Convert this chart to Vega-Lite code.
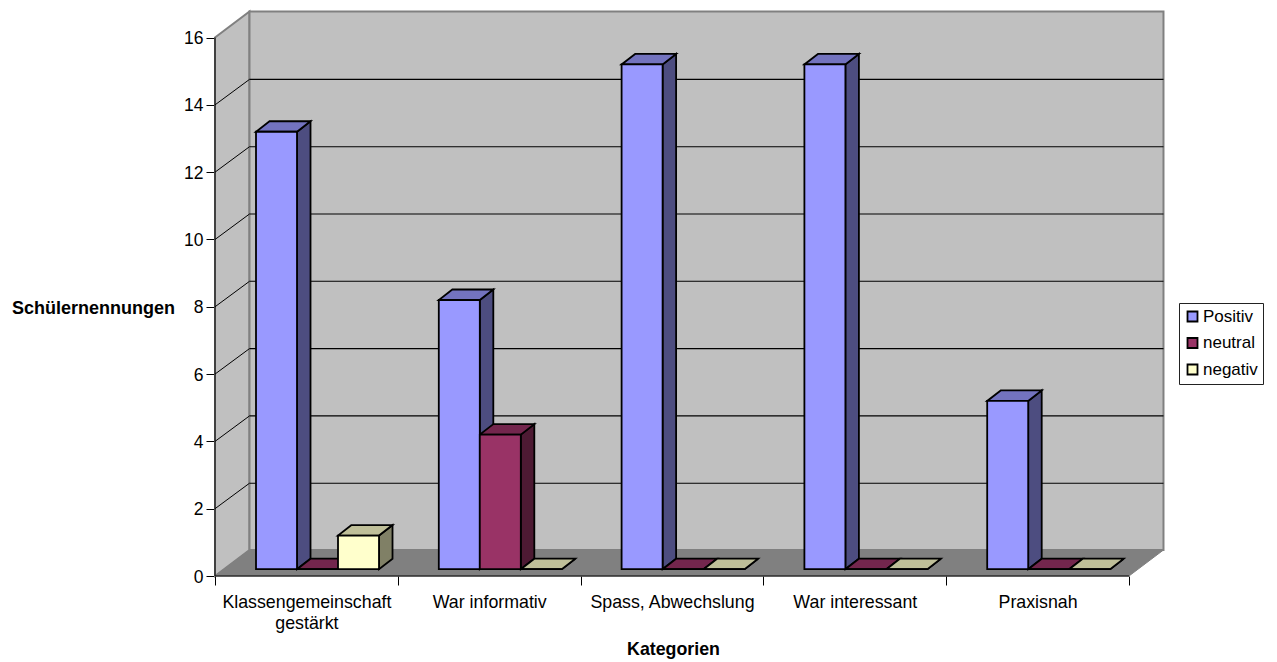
{
  "$schema": "https://vega.github.io/schema/vega-lite/v6.json",
  "autosize": {"type": "none"},
  "width": 949,
  "height": 564,
  "padding": {"left": 215, "top": 12, "right": 113, "bottom": 86},
  "background": "white",
  "config": {"font": "Liberation Sans", "view": {"stroke": null}},
  "datasets": {
    "bars": [
      {"category": "Klassengemeinschaft gestärkt", "cat": 0, "series": "Positiv", "pos": 0, "value": 13},
      {"category": "Klassengemeinschaft gestärkt", "cat": 0, "series": "neutral", "pos": 1, "value": 0},
      {"category": "Klassengemeinschaft gestärkt", "cat": 0, "series": "negativ", "pos": 2, "value": 1},
      {"category": "War informativ", "cat": 1, "series": "Positiv", "pos": 0, "value": 8},
      {"category": "War informativ", "cat": 1, "series": "neutral", "pos": 1, "value": 4},
      {"category": "War informativ", "cat": 1, "series": "negativ", "pos": 2, "value": 0},
      {"category": "Spass, Abwechslung", "cat": 2, "series": "Positiv", "pos": 0, "value": 15},
      {"category": "Spass, Abwechslung", "cat": 2, "series": "neutral", "pos": 1, "value": 0},
      {"category": "Spass, Abwechslung", "cat": 2, "series": "negativ", "pos": 2, "value": 0},
      {"category": "War interessant", "cat": 3, "series": "Positiv", "pos": 0, "value": 15},
      {"category": "War interessant", "cat": 3, "series": "neutral", "pos": 1, "value": 0},
      {"category": "War interessant", "cat": 3, "series": "negativ", "pos": 2, "value": 0},
      {"category": "Praxisnah", "cat": 4, "series": "Positiv", "pos": 0, "value": 5},
      {"category": "Praxisnah", "cat": 4, "series": "neutral", "pos": 1, "value": 0},
      {"category": "Praxisnah", "cat": 4, "series": "negativ", "pos": 2, "value": 0}
    ],
    "depth": [{"k": 0}, {"k": 1}],
    "grid": [{"v": 2}, {"v": 4}, {"v": 6}, {"v": 8}, {"v": 10}, {"v": 12}, {"v": 14}],
    "one": [{"k": 0}]
  },
  "layer": [
    {
      "data": {"name": "depth"},
      "transform": [
        {"calculate": "datum.k * 0.1887", "as": "wx"},
        {"calculate": "16 + datum.k * 0.773", "as": "wtop"},
        {"calculate": "datum.k * 0.773", "as": "wbottom"}
      ],
      "mark": {"type": "area", "color": "#C0C0C0", "stroke": "#808080", "strokeWidth": 2},
      "encoding": {
        "x": {
          "field": "wx",
          "type": "quantitative",
          "scale": {"domain": [0, 5.1915], "nice": false, "zero": false},
          "axis": {
            "values": [0, 0.5, 1, 1.5, 2, 2.5, 3, 3.5, 4, 4.5, 5],
            "domain": false,
            "grid": false,
            "tickSize": 9,
            "tickColor": "black",
            "tickOpacity": {"expr": "datum.value % 1 == 0 ? 1 : 0"},
            "labelExpr": "datum.value == 0.5 ? ['Klassengemeinschaft', 'gestärkt'] : datum.value == 1.5 ? 'War informativ' : datum.value == 2.5 ? 'Spass, Abwechslung' : datum.value == 3.5 ? 'War interessant' : datum.value == 4.5 ? 'Praxisnah' : ''",
            "labelFontSize": 17.8,
            "labelColor": "black",
            "labelPadding": 8,
            "labelLineHeight": 21,
            "labelOverlap": false,
            "labelFlush": false,
            "labelBound": false,
            "labelAngle": 0,
            "title": "Kategorien",
            "titleFontSize": 17.8,
            "titleFontWeight": "bold",
            "titleColor": "black",
            "titleX": 458,
            "titleY": 64,
            "titleAlign": "center"
          }
        },
        "y": {
          "field": "wtop",
          "type": "quantitative",
          "scale": {"domain": [0, 16.76], "nice": false, "zero": false},
          "axis": {
            "values": [0, 2, 4, 6, 8, 10, 12, 14, 16],
            "domain": false,
            "grid": false,
            "tickSize": 9,
            "tickColor": "black",
            "labelFontSize": 17.5,
            "labelColor": "black",
            "labelPadding": 3,
            "labelOffset": 1,
            "title": "Schülernennungen",
            "titleFontSize": 18,
            "titleFontWeight": "bold",
            "titleColor": "black",
            "titleAngle": 0,
            "titleX": -122,
            "titleY": 305,
            "titleAlign": "center"
          }
        },
        "y2": {"field": "wbottom"}
      }
    },
    {
      "data": {"name": "one"},
      "mark": {"type": "rect", "color": "#C0C0C0", "stroke": "#808080", "strokeWidth": 2},
      "encoding": {
        "x": {"datum": 0.1887, "type": "quantitative", "scale": {"domain": [0, 5.1915], "nice": false, "zero": false}, "axis": null},
        "x2": {"datum": 5.1887},
        "y": {"datum": 0.773, "type": "quantitative", "scale": {"domain": [0, 16.76], "nice": false, "zero": false}, "axis": null},
        "y2": {"datum": 16.773}
      }
    },
    {
      "data": {"name": "depth"},
      "transform": [
        {"calculate": "datum.k * 0.1887", "as": "fx"},
        {"calculate": "5 + datum.k * 0.1887", "as": "fx2"},
        {"calculate": "datum.k * 0.773", "as": "fy"}
      ],
      "mark": {"type": "area", "orient": "horizontal", "color": "#808080", "stroke": "#808080", "strokeWidth": 1},
      "encoding": {
        "y": {"field": "fy", "type": "quantitative", "scale": {"domain": [0, 16.76], "nice": false, "zero": false}, "axis": null},
        "x": {"field": "fx", "type": "quantitative", "scale": {"domain": [0, 5.1915], "nice": false, "zero": false}, "axis": null},
        "x2": {"field": "fx2"}
      }
    },
    {
      "data": {"name": "grid"},
      "transform": [{"calculate": "datum.v + 0.757", "as": "back"}],
      "mark": {"type": "rule", "color": "black", "strokeWidth": 1.1},
      "encoding": {
        "x": {"datum": 0.1887, "type": "quantitative", "scale": {"domain": [0, 5.1915], "nice": false, "zero": false}, "axis": null},
        "x2": {"datum": 5.1887},
        "y": {"field": "back", "type": "quantitative", "scale": {"domain": [0, 16.76], "nice": false, "zero": false}, "axis": null}
      }
    },
    {
      "data": {"name": "grid"},
      "transform": [{"calculate": "datum.v + 0.757", "as": "back"}],
      "mark": {"type": "rule", "color": "black", "strokeWidth": 1},
      "encoding": {
        "x": {"datum": 0, "type": "quantitative", "scale": {"domain": [0, 5.1915], "nice": false, "zero": false}, "axis": null},
        "x2": {"datum": 0.1887},
        "y": {"field": "v", "type": "quantitative", "scale": {"domain": [0, 16.76], "nice": false, "zero": false}, "axis": null},
        "y2": {"field": "back"}
      }
    },
    {
      "data": {"name": "one"},
      "mark": {"type": "rule", "color": "black", "strokeWidth": 1},
      "encoding": {
        "x": {"datum": 0, "type": "quantitative", "scale": {"domain": [0, 5.1915], "nice": false, "zero": false}, "axis": null},
        "y": {"datum": 0, "type": "quantitative", "scale": {"domain": [0, 16.76], "nice": false, "zero": false}, "axis": null},
        "y2": {"datum": 16}
      }
    },
    {
      "data": {"name": "one"},
      "mark": {"type": "rule", "color": "black", "strokeWidth": 1},
      "encoding": {
        "x": {"datum": 0, "type": "quantitative", "scale": {"domain": [0, 5.1915], "nice": false, "zero": false}, "axis": null},
        "x2": {"datum": 5},
        "y": {"datum": 0, "type": "quantitative", "scale": {"domain": [0, 16.76], "nice": false, "zero": false}, "axis": null}
      }
    },
    {
      "data": {"name": "bars"},
      "transform": [
        {"calculate": "[0, 1]", "as": "k"},
        {"flatten": ["k"]},
        {"calculate": "datum.cat + 0.2243 + (datum.pos + 1) * 0.2243 + datum.k * 0.0739", "as": "sx"},
        {"calculate": "0.202 + datum.value + datum.k * 0.312", "as": "stop"},
        {"calculate": "0.202 + datum.k * 0.312", "as": "sbottom"}
      ],
      "mark": {"type": "area", "stroke": "black", "strokeWidth": 1.8, "strokeJoin": "miter"},
      "encoding": {
        "x": {"field": "sx", "type": "quantitative", "scale": {"domain": [0, 5.1915], "nice": false, "zero": false}, "axis": null},
        "y": {"field": "stop", "type": "quantitative", "stack": null, "scale": {"domain": [0, 16.76], "nice": false, "zero": false}, "axis": null},
        "y2": {"field": "sbottom"},
        "detail": {"field": "category"},
        "color": {
          "field": "series",
          "type": "nominal",
          "scale": {"domain": ["Positiv", "neutral", "negativ"], "range": ["#4D4D80", "#4D1A33", "#808066"]},
          "legend": null
        }
      }
    },
    {
      "data": {"name": "bars"},
      "transform": [
        {"calculate": "[0, 1]", "as": "k"},
        {"flatten": ["k"]},
        {"calculate": "datum.cat + 0.2243 + datum.pos * 0.2243 + datum.k * 0.0739", "as": "tx"},
        {"calculate": "datum.cat + 0.2243 + (datum.pos + 1) * 0.2243 + datum.k * 0.0739", "as": "tx2"},
        {"calculate": "0.202 + datum.value + datum.k * 0.312", "as": "ty"}
      ],
      "mark": {"type": "area", "orient": "horizontal", "stroke": "black", "strokeWidth": 1.8, "strokeJoin": "miter"},
      "encoding": {
        "y": {"field": "ty", "type": "quantitative", "scale": {"domain": [0, 16.76], "nice": false, "zero": false}, "axis": null},
        "x": {"field": "tx", "type": "quantitative", "stack": null, "scale": {"domain": [0, 5.1915], "nice": false, "zero": false}, "axis": null},
        "x2": {"field": "tx2"},
        "detail": {"field": "category"},
        "color": {
          "field": "series",
          "type": "nominal",
          "scale": {"domain": ["Positiv", "neutral", "negativ"], "range": ["#7373BF", "#73264D", "#BFBF99"]},
          "legend": null
        }
      }
    },
    {
      "data": {"name": "bars"},
      "transform": [
        {"calculate": "datum.cat + 0.2243 + datum.pos * 0.2243", "as": "bx"},
        {"calculate": "datum.cat + 0.2243 + (datum.pos + 1) * 0.2243", "as": "bx2"},
        {"calculate": "0.202 + datum.value", "as": "btop"},
        {"calculate": "0.202", "as": "bbase"}
      ],
      "mark": {"type": "rect", "stroke": "black", "strokeWidth": 1.8},
      "encoding": {
        "x": {"field": "bx", "type": "quantitative", "scale": {"domain": [0, 5.1915], "nice": false, "zero": false}, "axis": null},
        "x2": {"field": "bx2"},
        "y": {"field": "btop", "type": "quantitative", "scale": {"domain": [0, 16.76], "nice": false, "zero": false}, "axis": null},
        "y2": {"field": "bbase"},
        "color": {
          "field": "series",
          "type": "nominal",
          "scale": {"domain": ["Positiv", "neutral", "negativ"], "range": ["#9999FF", "#993366", "#FFFFCC"]},
          "legend": {
            "title": null,
            "orient": "none",
            "legendX": 964,
            "legendY": 291,
            "fillColor": "white",
            "strokeColor": "#222222",
            "padding": 5,
            "rowPadding": 7.5,
            "symbolType": "square",
            "symbolSize": 100,
            "symbolStrokeColor": "black",
            "symbolStrokeWidth": 1.8,
            "symbolOpacity": 1,
            "labelFontSize": 17,
            "labelColor": "black",
            "labelOffset": 2
          }
        }
      }
    }
  ],
  "resolve": {
    "scale": {"color": "independent"},
    "axis": {"x": "independent", "y": "independent"}
  }
}
